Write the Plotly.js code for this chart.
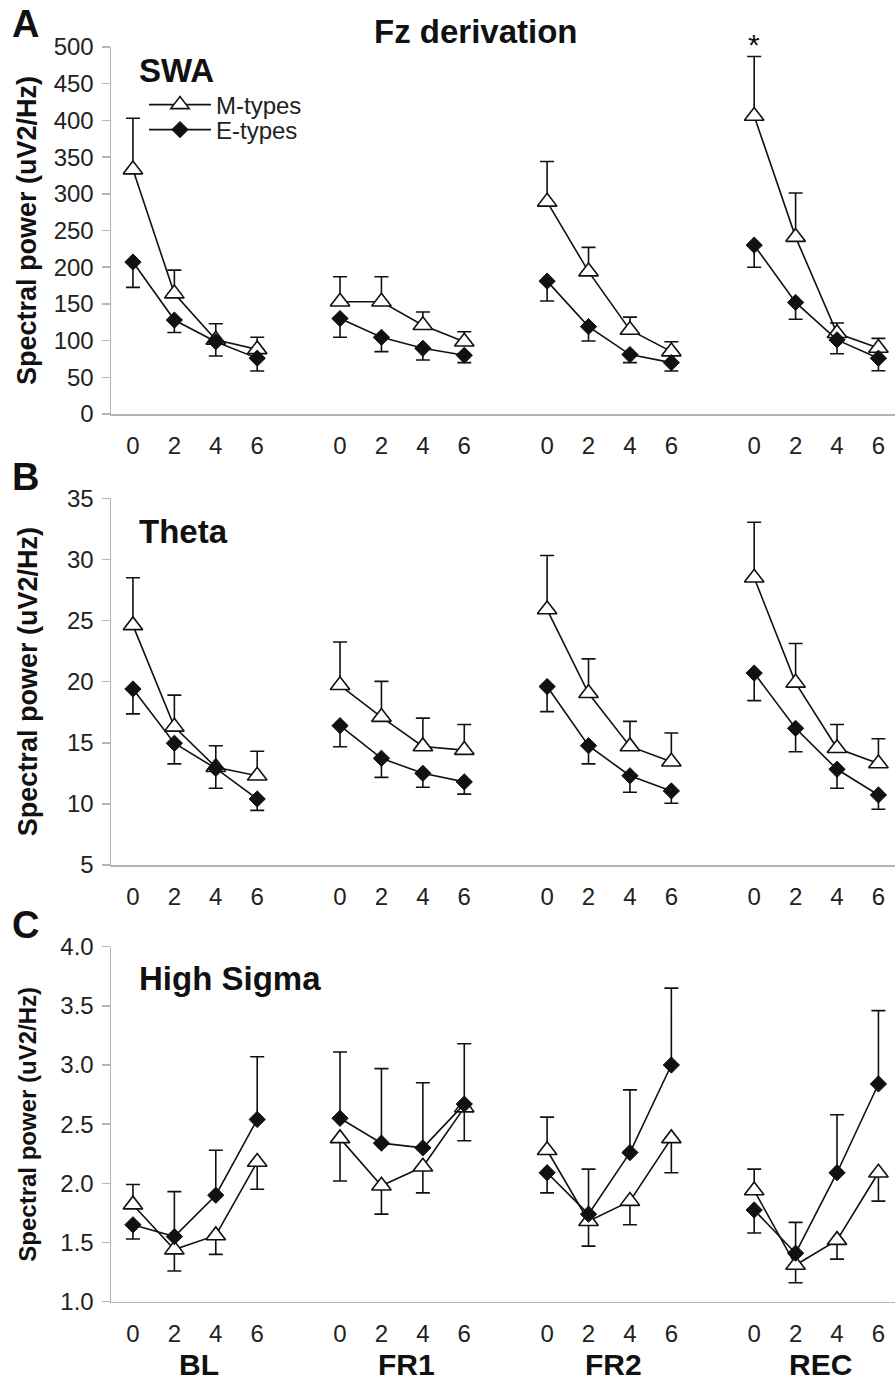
<!DOCTYPE html>
<html><head><meta charset="utf-8">
<script src="https://cdn.plot.ly/plotly-3.0.1.min.js"></script>
<style>html,body{margin:0;padding:0;background:#fff}</style>
</head><body><div id="chart" style="width:895px;height:1399px"></div>
<script>
// ---------------- data ----------------
const groups = ['BL', 'FR1', 'FR2', 'REC'];
const hours = ['0', '2', '4', '6'];
const seriesNames = ['M-types', 'E-types'];

// Panel A: SWA (means and SEM, order BL0..6, FR1 0..6, FR2 0..6, REC 0..6)
const swaM   = [333, 164, 101, 88,   153, 153, 121, 98.5,  289, 194, 114.5, 85,  406, 241, 110, 90];
const swaMse = [70, 32, 22, 16.5,    34, 34, 18, 13.5,     55, 33, 17.5, 13.5,   81, 60, 14, 13];
const swaE   = [207, 128, 98.5, 76,  130, 104.5, 89.5, 80, 181, 119, 81, 70,    230, 152, 101, 76];
const swaEse = [34.5, 17, 19.5, 17.5, 25.5, 19.5, 16, 10,  27, 19.5, 11, 11.5,   30, 23, 19, 17];

// Panel B: Theta
const thetaM   = [24.6, 16.3, 13.0, 12.3,  19.7, 17.1, 14.7, 14.4,  25.9, 19.05, 14.7, 13.45,  28.5, 19.9, 14.55, 13.3];
const thetaMse = [3.9, 2.6, 1.76, 2.0,     3.54, 2.92, 2.32, 2.1,   4.42, 2.81, 2.05, 2.35,    4.54, 3.22, 1.95, 2.03];
const thetaE   = [19.4, 14.96, 12.9, 10.4, 16.4, 13.73, 12.5, 11.8, 19.6, 14.76, 12.3, 11.06,  20.7, 16.18, 12.83, 10.73];
const thetaEse = [2.04, 1.69, 1.62, 0.93,  1.72, 1.56, 1.14, 1.0,   2.05, 1.49, 1.35, 1.01,    2.25, 1.91, 1.55, 1.17];

// Panel C: High Sigma
const sigmaM   = [1.82, 1.44, 1.56, 2.18,  2.38, 1.98, 2.14, 2.64,  2.28, 1.68, 1.85, 2.38,  1.94, 1.31, 1.52, 2.09];
const sigmaMse = [0.17, 0.18, 0.16, 0.23,  0.36, 0.24, 0.22, 0.28,  0.28, 0.21, 0.20, 0.29,  0.18, 0.15, 0.16, 0.24];
const sigmaE   = [1.65, 1.55, 1.90, 2.54,  2.55, 2.34, 2.30, 2.67,  2.09, 1.74, 2.26, 3.00,  1.775, 1.41, 2.09, 2.84];
const sigmaEse = [0.12, 0.38, 0.38, 0.53,  0.56, 0.63, 0.55, 0.51,  0.17, 0.38, 0.53, 0.65,  0.195, 0.26, 0.49, 0.62];

const panelTitles = ['SWA', 'Theta', 'High Sigma'];
const panelLetters = ['A', 'B', 'C'];
const yRanges = [[0, 500], [5, 35], [1, 4]];
const yDticks = [50, 5, 0.5];
const yFormats = ['d', 'd', '.1f'];

// ---------------- layout helpers ----------------
const W = 895, H = 1399, L = 111;
const px = x => (x - L) / (W - L);      // pixel x -> paper x
const py = y => 1 - y / H;              // pixel y -> paper y
const FONT = 'Liberation Sans, Arial, sans-serif';
const INK = '#111';
const AXC = '#b5b5b5';

const domains = [[py(414), py(47)], [py(865), py(498.3)], [py(1301.7), py(946.7)]];

const panels = [
  {m: swaM, mse: swaMse, e: swaE, ese: swaEse},
  {m: thetaM, mse: thetaMse, e: thetaE, ese: thetaEse},
  {m: sigmaM, mse: sigmaMse, e: sigmaE, ese: sigmaEse}
];

const tickvals = [], ticktext = [];
groups.forEach((g, gi) => hours.forEach((h, hi) => { tickvals.push(gi * 5 + hi); ticktext.push(h); }));

function buildTrace(k, vals, other, se, isM) {
  const x = [], y = [], plus = [], minus = [];
  groups.forEach((g, gi) => {
    hours.forEach((h, hi) => {
      const i = gi * 4 + hi;
      const up = vals[i] >= other[i];
      x.push(gi * 5 + hi); y.push(vals[i]);
      plus.push(up ? se[i] : 0); minus.push(up ? 0 : se[i]);
    });
    x.push(gi * 5 + 3.5); y.push(null); plus.push(null); minus.push(null);
  });
  const suffix = k === 0 ? '' : String(k + 1);
  const t = {
    type: 'scatter', mode: 'lines+markers', x, y,
    xaxis: 'x' + suffix, yaxis: 'y' + suffix,
    name: isM ? seriesNames[0] : seriesNames[1],
    showlegend: k === 0,
    legend: isM ? 'legend' : 'legend2',
    connectgaps: false, cliponaxis: false,
    line: {color: INK, width: 1.6},
    marker: isM
      ? {symbol: 'triangle-up', size: 17, color: '#fff', line: {color: INK, width: 1.6}}
      : {symbol: 'diamond', size: 12.5, color: INK, line: {color: INK, width: 1}},
    error_y: {type: 'data', symmetric: false, array: plus, arrayminus: minus,
              color: INK, thickness: 1.6, width: 7},
    hoverinfo: 'skip'
  };
  return t;
}

const traces = [];
panels.forEach((p, k) => {
  traces.push(buildTrace(k, p.m, p.e, p.mse, true));
  traces.push(buildTrace(k, p.e, p.m, p.ese, false));
});

const layout = {
  width: W, height: H,
  margin: {l: L, r: 0, t: 0, b: 0},
  paper_bgcolor: '#fff', plot_bgcolor: '#fff',
  font: {family: FONT, color: '#222', size: 24},
  showlegend: true,
  legend: {x: px(144), y: py(105), xanchor: 'left', yanchor: 'middle', bgcolor: 'rgba(0,0,0,0)',
           font: {size: 24, color: '#222'}, itemwidth: 62, borderwidth: 0},
  legend2: {x: px(144), y: py(130), xanchor: 'left', yanchor: 'middle', bgcolor: 'rgba(0,0,0,0)',
            font: {size: 24, color: '#222'}, itemwidth: 62, borderwidth: 0},
  annotations: [],
  hovermode: false
};

for (let k = 0; k < 3; k++) {
  const s = k === 0 ? '' : String(k + 1);
  layout['xaxis' + s] = {
    domain: [0, 1], anchor: 'y' + s, range: [-0.53, 18.4],
    showgrid: false, zeroline: false, showline: true, linecolor: AXC, linewidth: 1.5,
    ticks: '', tickmode: 'array', tickvals, ticktext,
    tickfont: {size: 24, color: '#222'}, ticklabelstandoff: 10
  };
  layout['yaxis' + s] = {
    domain: domains[k], anchor: 'x' + s, range: yRanges[k],
    dtick: yDticks[k], tick0: 0, tickformat: yFormats[k],
    showgrid: false, zeroline: false, showline: true, linecolor: AXC, linewidth: 1.5,
    ticks: 'outside', ticklen: 8, tickwidth: 1.5, tickcolor: AXC,
    tickfont: {size: 24, color: '#222'}, ticklabelstandoff: 3
  };
  const ymid = (domains[k][0] + domains[k][1]) / 2;
  layout.annotations.push({
    xref: 'paper', yref: 'paper', x: px(27.5), y: ymid, textangle: -90,
    text: '<b>Spectral power (uV2/Hz)</b>', showarrow: false,
    font: {size: k === 2 ? 24 : 27, color: '#111'}, xanchor: 'center', yanchor: 'middle'
  });
}

// panel letters and titles
const letterY = [22.5, 475, 922.5];
const titleY = [68.5, 529.5, 976];
for (let k = 0; k < 3; k++) {
  layout.annotations.push({xref: 'paper', yref: 'paper', x: px(25), y: py(letterY[k] + 2),
    text: '<b>' + panelLetters[k] + '</b>', showarrow: false, font: {size: 38, color: '#111'},
    xanchor: 'center', yanchor: 'middle'});
  layout.annotations.push({xref: 'paper', yref: 'paper', x: px(137), y: py(titleY[k] + 2),
    text: '<b>' + panelTitles[k] + '</b>', showarrow: false, font: {size: 33, color: '#111'},
    xanchor: 'left', yanchor: 'middle'});
}
layout.annotations.push({xref: 'paper', yref: 'paper', x: px(476), y: py(31),
  text: '<b>Fz derivation</b>', showarrow: false, font: {size: 33, color: '#111'},
  xanchor: 'center', yanchor: 'middle'});

// group labels under panel C
groups.forEach((g, gi) => {
  layout.annotations.push({xref: 'x3', yref: 'paper', x: gi * 5 + 1.6, y: py(1364),
    text: '<b>' + g + '</b>', showarrow: false, font: {size: 30, color: '#111'},
    xanchor: 'center', yanchor: 'middle'});
});

// significance star above REC 0 (M-types) in SWA
layout.annotations.push({xref: 'x', yref: 'y', x: 15, y: swaM[12] + swaMse[12],
  text: '*', showarrow: false, font: {size: 30, color: '#111'},
  xanchor: 'center', yanchor: 'bottom', yshift: -6});

Plotly.newPlot('chart', traces, layout, {staticPlot: true});
</script>
</body></html>
